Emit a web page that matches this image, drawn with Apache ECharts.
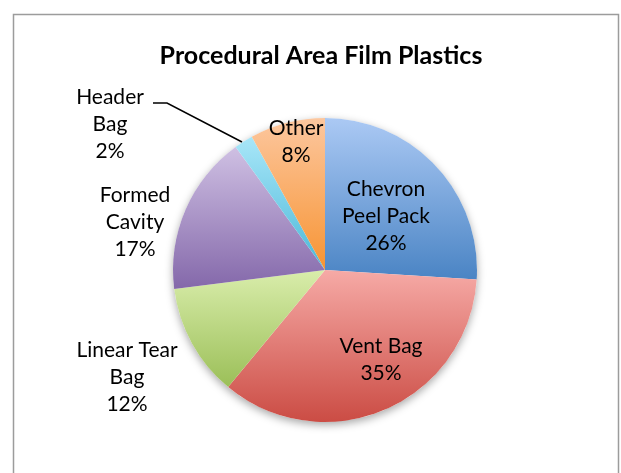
<!DOCTYPE html>
<html>
<head>
<meta charset="utf-8">
<script src="https://cdn.jsdelivr.net/npm/echarts@6/dist/echarts.min.js"></script>
<style>
  html, body { margin: 0; padding: 0; background: #fff; }
  #chart { width: 621px; height: 473px; }
</style>
</head>
<body>
<div id="chart"></div>
<script>
// Share of procedural-area film plastics, by package type (percent)
const categories = ['Chevron Peel Pack', 'Vent Bag', 'Linear Tear Bag', 'Formed Cavity', 'Header Bag', 'Other'];
const shares = [26, 35, 12, 17, 2, 8];
// Wrapped label text for each category
const labelNames = ['Chevron\nPeel Pack', 'Vent Bag', 'Linear Tear\nBag', 'Formed\nCavity', 'Header\nBag', 'Other'];

// Top / bottom colour of each slice's vertical gradient
const topColors = ['#abc9f4', '#f6aaa6', '#d9edab', '#cfc0e3', '#a8e6f8', '#fcc79f'];
const bottomColors = ['#4a84c4', '#cb4c44', '#9bbf58', '#8468aa', '#4bb8d8', '#f79433'];

// Label placement (centre of the text block), keyed by slice
const labelPos = [
  [386, 216], [381, 360], [127, 377], [135, 222], [110, 124], [296, 142]
];

const chart = echarts.init(document.getElementById('chart'), null, { renderer: 'canvas' });

const pieCenter = [325, 270];
const pieRadius = 152;

const data = categories.map((name, i) => ({
  name,
  value: shares[i],
  itemStyle: {
    color: new echarts.graphic.LinearGradient(0, 0, 0, 1, [
      { offset: 0, color: topColors[i] },
      { offset: 1, color: bottomColors[i] }
    ])
  },
  label: i === 4 ? { position: 'outside' } : {},
  labelLine: { show: i === 4 }
}));

chart.setOption({
  backgroundColor: '#fff',
  animation: false,
  title: {
    text: 'Procedural Area Film Plastics',
    left: 316,
    top: 38,
    textAlign: 'center',
    textStyle: { fontFamily: 'Lato', fontWeight: 'bold', fontSize: 25, color: '#000' }
  },
  graphic: [{
    type: 'rect',
    shape: { x: 13.5, y: 14.5, width: 605, height: 470 },
    style: { fill: 'none', stroke: '#9c9c9c', lineWidth: 1.5 },
    silent: true,
    z: -10
  }],
  series: [
    {
      // soft drop shadow beneath the pie
      type: 'pie',
      center: pieCenter,
      radius: pieRadius,
      silent: true,
      z: 1,
      label: { show: false },
      labelLine: { show: false },
      itemStyle: {
        color: '#fff',
        shadowBlur: 8,
        shadowOffsetY: 3,
        shadowColor: 'rgba(0,0,0,0.35)'
      },
      data: [{ value: 1 }]
    },
    {
      type: 'pie',
      center: pieCenter,
      radius: pieRadius,
      startAngle: 90,
      clockwise: true,
      z: 2,
      avoidLabelOverlap: false,
      itemStyle: { borderWidth: 0 },
      label: {
        show: true,
        position: 'inside',
        color: '#000',
        fontFamily: 'Lato',
        fontSize: 21,
        lineHeight: 27,
        align: 'center',
        formatter: p => labelNames[p.dataIndex] + '\n' + p.value + '%'
      },
      labelLine: {
        show: false,
        lineStyle: { color: '#000', width: 1.5 }
      },
      labelLayout: p => {
        const [x, y] = labelPos[p.dataIndex];
        const out = { x, y, align: 'center', verticalAlign: 'middle' };
        if (p.dataIndex === 4) {
          out.labelLinePoints = [[153, 103], [167, 103], [242, 142]];
        }
        return out;
      },
      data
    }
  ]
});
</script>
</body>
</html>
